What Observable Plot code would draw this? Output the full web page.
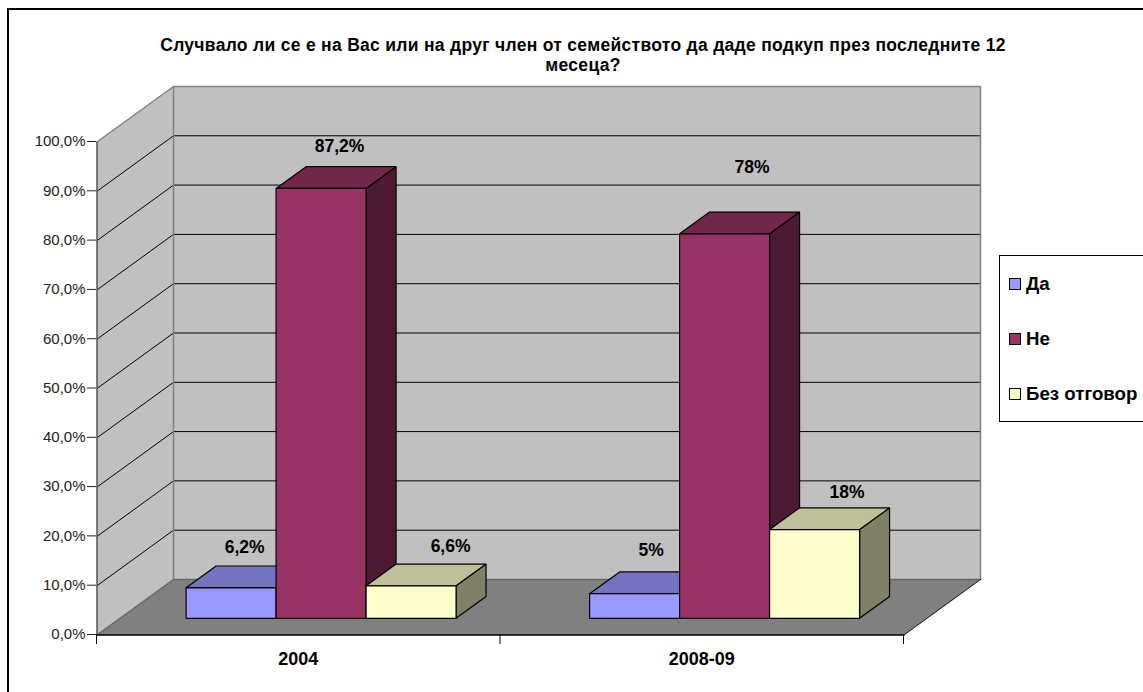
<!DOCTYPE html>
<html lang="bg">
<head>
<meta charset="utf-8">
<script src="https://cdn.jsdelivr.net/npm/d3@7"></script>
<script src="https://cdn.jsdelivr.net/npm/@observablehq/plot@0.6"></script>
<style>
  html, body { margin: 0; padding: 0; background: #fff; }
  body { width: 1143px; height: 692px; position: relative; overflow: hidden; font-family: "Liberation Sans", Arial, sans-serif; color: #000; }
  #frame { position: absolute; left: 7px; top: 8px; right: 0; bottom: 0; border-left: 2px solid #000; border-top: 2px solid #000; }
  #title { position: absolute; left: 83px; width: 1000px; top: 35px; text-align: center; font-weight: bold; font-size: 17.5px; letter-spacing: 0.3px; line-height: 20px; }
  #chart { position: absolute; left: 0; top: 0; }
  #legend { position: absolute; left: 999px; top: 255px; width: 160px; height: 165px; border: 1px solid #000; background: #fff; }
  .key { position: absolute; left: 9px; height: 13px; display: flex; align-items: center; font-weight: bold; font-size: 18.7px; white-space: nowrap; }
  .key i { display: block; width: 10px; height: 10px; border: 1px solid #000; margin-right: 5px; }
</style>
</head>
<body>
<div id="frame"></div>
<div id="chart"></div>
<div id="title">Случвало ли се е на Вас или на друг член от семейството да даде подкуп през последните 12<br>месеца?</div>
<div id="legend"></div>
<script>
const categories = ["2004", "2008-09"];
const seriesNames = ["Да", "Не", "Без отговор"];
const values2004 = [6.2, 87.2, 6.6];
const values200809 = [5, 78, 18];
const labels2004 = ["6,2%", "87,2%", "6,6%"];
const labels200809 = ["5%", "78%", "18%"];
const yTicks = [0, 10, 20, 30, 40, 50, 60, 70, 80, 90, 100];

// Styles and layout, separate from the data
const faceColors = [
  {front: "#9999FF", top: "#7373BF", side: "#4D4D80"},
  {front: "#993366", top: "#73264D", side: "#4D1A33"},
  {front: "#FFFFCC", top: "#BFBF99", side: "#808066"}
];
const labelNudge = [
  [[14, -40], [19, -42], [40, -39]],
  [[17, -43], [28, -66], [33, -37]]
];
const depthX = 0.1896, depthY = 11.26;      // how far one unit of depth shifts a point
const depthNear = 0.3, depthFar = 0.692;    // depth span of the bars
const barWidth = 0.223, groupGap = 0.164;   // in category units

const project = (x, y, d = 0) => ({x: x + d * depthX, y: y + d * depthY});
const polygon = (pts) => [...pts, pts[0]].map(([x, y, d]) => project(x, y, d));
const path = (pts) => pts.map(([x, y, d]) => project(x, y, d));
const lineOpts = {x: "x", y: "y", dx: 0.5, dy: 0.5};
const face = (pts, fill, stroke = "none", sw = 1) =>
  Plot.line(polygon(pts), {...lineOpts, fill, stroke, strokeWidth: sw, strokeLinejoin: "miter"});
const edge = (pts, stroke, sw = 1) =>
  Plot.line(path(pts), {...lineOpts, stroke, strokeWidth: sw});

const marks = [];

// Walls and floor
marks.push(face([[0, 0, 0], [0, 0, 1], [0, 100, 1], [0, 100, 0]], "#C0C0C0"));
marks.push(face([[0, 0, 1], [2, 0, 1], [2, 100, 1], [0, 100, 1]], "#C0C0C0"));
marks.push(face([[0, 0, 0], [2, 0, 0], [2, 0, 1], [0, 0, 1]], "#808080"));

// Gridlines along both walls
for (const t of yTicks.slice(1, -1)) {
  marks.push(edge([[0, t, 0], [0, t, 1], [2, t, 1]], "#000"));
}
// Frame edges of the walls and floor
marks.push(edge([[0, 100, 0], [0, 100, 1], [2, 100, 1], [2, 0, 1]], "#808080", 1.5));
marks.push(edge([[0, 0, 1], [0, 100, 1]], "#808080", 1.5));
marks.push(edge([[0, 0, 0], [0, 0, 1], [2, 0, 1]], "#666666", 1.5));
marks.push(edge([[0, 0, 0], [0, 100, 0]], "#555555", 1.5));
marks.push(edge([[0, 0, 0], [2, 0, 0]], "#000", 1.5));
marks.push(edge([[2, 0, 0], [2, 0, 1]], "#111", 1));

// Bars, painted from left to right
[values2004, values200809].forEach((vals, g) => {
  vals.forEach((v, s) => {
    const x0 = g + groupGap + s * barWidth, x1 = x0 + barWidth;
    const c = faceColors[s];
    marks.push(face([[x1, 0, depthNear], [x1, 0, depthFar], [x1, v, depthFar], [x1, v, depthNear]], c.side, "#000", 1.2));
    marks.push(face([[x0, v, depthNear], [x1, v, depthNear], [x1, v, depthFar], [x0, v, depthFar]], c.top, "#000", 1.2));
    marks.push(face([[x0, 0, depthNear], [x1, 0, depthNear], [x1, v, depthNear], [x0, v, depthNear]], c.front, "#000", 1.2));
  });
});

// Value labels
[labels2004, labels200809].forEach((labs, g) => {
  const vals = g === 0 ? values2004 : values200809;
  labs.forEach((text, s) => {
    const xc = g + groupGap + (s + 0.5) * barWidth;
    const p = project(xc, vals[s], depthNear);
    marks.push(Plot.text([{...p, text}], {
      x: "x", y: "y", text: "text",
      dx: labelNudge[g][s][0], dy: labelNudge[g][s][1],
      fontWeight: "bold", fontSize: 17.5, fill: "#000"
    }));
  });
});

const plot = Plot.plot({
  width: 1143,
  height: 692,
  marginLeft: 96,
  marginRight: 240,
  marginTop: 141,
  marginBottom: 58,
  x: {domain: [0, 2]},
  y: {domain: [0, 100]},
  style: {fontFamily: "'Liberation Sans', Arial, sans-serif", background: "transparent", overflow: "visible"},
  marks: [
    ...marks,
    Plot.axisY({ticks: yTicks, tickFormat: (d) => d + ",0%", tickSize: 9, tickPadding: 2, fontSize: 15, label: null, color: "#222"}),
    Plot.axisX({ticks: [0, 1, 2], tickFormat: () => "", tickSize: 10, label: null}),
    Plot.axisX({
      ticks: [0.5, 1.5],
      tickFormat: (d) => categories[Math.floor(d)],
      tickSize: 0, tickPadding: 18, fontSize: 18, fontWeight: "bold", label: null
    })
  ]
});
document.getElementById("chart").appendChild(plot);

// Legend
const legend = document.getElementById("legend");
const keyTops = [21, 76, 131];
seriesNames.forEach((name, i) => {
  const row = document.createElement("div");
  row.className = "key";
  row.style.top = keyTops[i] + "px";
  const sw = document.createElement("i");
  sw.style.background = faceColors[i].front;
  row.appendChild(sw);
  row.appendChild(document.createTextNode(name));
  legend.appendChild(row);
});
</script>
</body>
</html>
